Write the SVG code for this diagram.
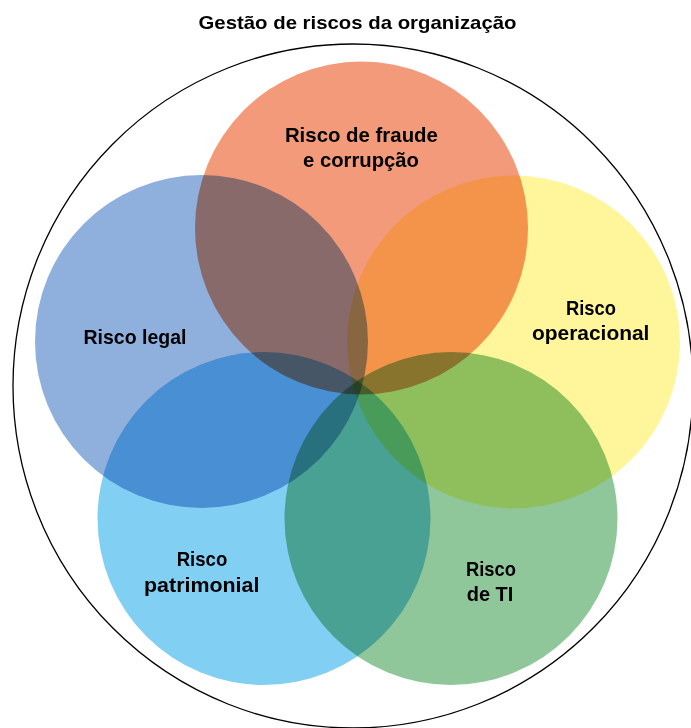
<svg xmlns="http://www.w3.org/2000/svg" width="691" height="728" viewBox="0 0 691 728">
<style>
.set{mix-blend-mode:multiply;stroke:none}
.lbl{font-family:"Liberation Sans",Arial,sans-serif;font-weight:bold;font-size:21px;fill:#000;text-anchor:middle}
.title{font-family:"Liberation Sans",Arial,sans-serif;font-weight:bold;font-size:19px;fill:#000;text-anchor:middle}
</style>
<rect width="691" height="728" fill="#ffffff"/>
<g id="organizacao">
<ellipse cx="353" cy="386" rx="340" ry="342" fill="none" stroke="#000" stroke-width="1.3"/>
<text class="title" x="357.5" y="29" textLength="318" lengthAdjust="spacingAndGlyphs">Gestão de riscos da organização</text>
</g>
<g id="sets" style="isolation:isolate">
<g id="fraude"><circle class="set" cx="361.5" cy="228" r="166.5" fill="#f39a7b"/></g>
<g id="legal"><circle class="set" cx="201.5" cy="341.5" r="166.5" fill="#8fb0dd"/></g>
<g id="operacional"><circle class="set" cx="513.5" cy="342" r="166.5" fill="#fff59a"/></g>
<g id="patrimonial"><circle class="set" cx="264" cy="518.5" r="166.5" fill="#82cff4"/></g>
<g id="ti"><circle class="set" cx="451" cy="518.5" r="166.5" fill="#8fc79a"/></g>
</g>
<g id="labels">
<text class="lbl" x="361.4" y="142" textLength="153" lengthAdjust="spacingAndGlyphs">Risco de fraude</text>
<text class="lbl" x="361" y="167" textLength="116" lengthAdjust="spacingAndGlyphs">e corrupção</text>
<text class="lbl" x="135" y="344" textLength="103" lengthAdjust="spacingAndGlyphs">Risco legal</text>
<text class="lbl" x="591" y="314.5" textLength="50" lengthAdjust="spacingAndGlyphs">Risco</text>
<text class="lbl" x="590.7" y="340" textLength="117.5" lengthAdjust="spacingAndGlyphs">operacional</text>
<text class="lbl" x="202" y="566" textLength="50.6" lengthAdjust="spacingAndGlyphs">Risco</text>
<text class="lbl" x="201.7" y="591.7" textLength="115.3" lengthAdjust="spacingAndGlyphs">patrimonial</text>
<text class="lbl" x="491" y="575.7" textLength="50" lengthAdjust="spacingAndGlyphs">Risco</text>
<text class="lbl" x="490" y="600.7" textLength="46.6" lengthAdjust="spacingAndGlyphs">de TI</text>
</g>
</svg>
